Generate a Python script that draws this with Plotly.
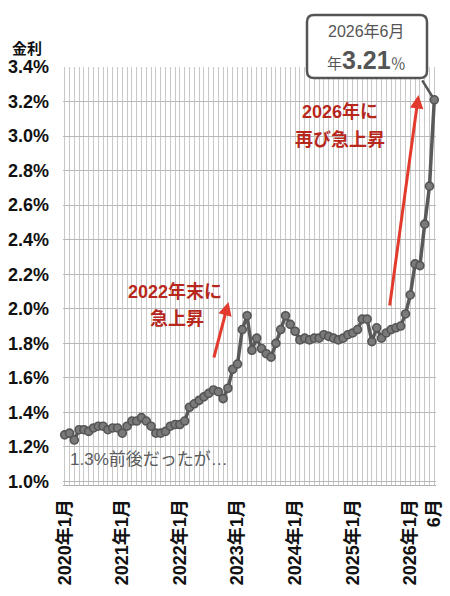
import plotly.graph_objects as go

# ---- data ----
years = [2020, 2021, 2022, 2023, 2024, 2025, 2026]
rates_2020 = [1.27, 1.28, 1.24, 1.30, 1.30, 1.29, 1.31, 1.32, 1.32, 1.30, 1.31, 1.31]
rates_2021 = [1.28, 1.32, 1.35, 1.35, 1.37, 1.35, 1.32, 1.28, 1.28, 1.29, 1.32, 1.33]
rates_2022 = [1.33, 1.35, 1.43, 1.45, 1.47, 1.49, 1.51, 1.53, 1.52, 1.48, 1.54, 1.65]
rates_2023 = [1.68, 1.88, 1.96, 1.76, 1.83, 1.77, 1.74, 1.72, 1.80, 1.88, 1.96, 1.91]
rates_2024 = [1.87, 1.82, 1.83, 1.82, 1.83, 1.83, 1.85, 1.84, 1.83, 1.82, 1.83, 1.85]
rates_2025 = [1.86, 1.88, 1.94, 1.94, 1.81, 1.89, 1.83, 1.86, 1.88, 1.89, 1.90, 1.97]
rates_2026 = [2.08, 2.26, 2.25, 2.49, 2.71, 3.21]

rates = rates_2020 + rates_2021 + rates_2022 + rates_2023 + rates_2024 + rates_2025 + rates_2026
months = []
for y, arr in zip(years, [rates_2020, rates_2021, rates_2022, rates_2023, rates_2024, rates_2025, rates_2026]):
    for m in range(len(arr)):
        months.append(f"{y}年{m + 1}月")
idx = list(range(len(rates)))

x_tick_text = ["2020年1月", "2021年1月", "2022年1月", "2023年1月", "2024年1月", "2025年1月", "2026年1月", "6月"]
x_tick_vals = [months.index(t) for t in x_tick_text[:-1]] + [len(months) - 1]
y_tick_vals = [1.0, 1.2, 1.4, 1.6, 1.8, 2.0, 2.2, 2.4, 2.6, 2.8, 3.0, 3.2, 3.4]
y_tick_text = [f"{v:.1f}%" for v in y_tick_vals]

# ---- layout geometry ----
WID, HEI = 450, 596
L, R, T, B = 63, 436, 67, 485

def px(x):
    return (x - L) / (R - L)

def py(y):
    return (B - y) / (B - T)

FONT = "Liberation Sans, Noto Sans CJK JP, sans-serif"

fig = go.Figure()
fig.add_trace(go.Scatter(
    x=idx, y=rates, mode="lines+markers",
    line=dict(color="#5a5a5a", width=3.5),
    marker=dict(size=8, color="#7a7a7a", line=dict(color="#555555", width=1.6)),
    cliponaxis=False, hoverinfo="skip", showlegend=False,
))

def rect(x0, y0, x1, y1):
    return dict(type="rect", xref="paper", yref="paper",
                x0=px(x0), x1=px(x1), y0=py(y1), y1=py(y0),
                fillcolor="white", line=dict(width=0), layer="between")

shapes = [rect(63, 447, 232, 471), rect(118, 275, 236, 332), rect(284, 94, 393, 153)]

# rounded callout box
cx0, cy0, cx1, cy1, r = 307, 15, 427, 78, 7
def P(x, y):
    return f"{px(x):.5f},{py(y):.5f}"
path = (f"M{P(cx0 + r, cy0)} L{P(cx1 - r, cy0)} Q{P(cx1, cy0)} {P(cx1, cy0 + r)} "
        f"L{P(cx1, cy1 - r)} Q{P(cx1, cy1)} {P(cx1 - r, cy1)} "
        f"L{P(cx0 + r, cy1)} Q{P(cx0, cy1)} {P(cx0, cy1 - r)} "
        f"L{P(cx0, cy0 + r)} Q{P(cx0, cy0)} {P(cx0 + r, cy0)} Z")
shapes.append(dict(type="path", xref="paper", yref="paper", path=path,
                   fillcolor="white", line=dict(color="#555555", width=2.5), layer="above"))

RED_TXT = "#b8271c"
RED_ARR = "#e23b2e"
ann = []
def txt(x, y, s, size, color, weight="normal", xanchor="center"):
    ann.append(dict(xref="paper", yref="paper", x=px(x), y=py(y), text=s, showarrow=False,
                    xanchor=xanchor, yanchor="middle",
                    font=dict(family=FONT, size=size, color=color, weight=weight)))

txt(27, 48.5, "金利", 15, "#111111", "bold")
txt(68, 459.5, "1.3%前後だったが…", 17, "#5b5b5b", xanchor="left")
txt(175, 291.7, "2022年末に", 18, RED_TXT, "bold")
txt(176.5, 318.3, "急上昇", 18, RED_TXT, "bold")
txt(340, 111.7, "2026年に", 18, RED_TXT, "bold")
txt(340, 139.3, "再び急上昇", 18, RED_TXT, "bold")
txt(366, 31.7, months[-1], 16, "#555555")
txt(366, 60, f"年<span style='font-size:25px'><b>{rates[-1]:.2f}</b></span>％", 15, "#555555")

def arrow(x, y, ax, ay):
    ann.append(dict(xref="paper", yref="paper", x=px(x), y=py(y), ax=ax, ay=ay, text="",
                    showarrow=True, arrowhead=2, arrowsize=0.9, arrowwidth=3, arrowcolor=RED_ARR))

arrow(228.5, 302, -15, 57)
arrow(418.5, 95, -29, 212)

# callout tail to last point
ann.append(dict(x=idx[-1], y=rates[-1], ax=-13, ay=-21, text="", showarrow=True,
                arrowhead=0, arrowwidth=2.5, arrowcolor="#555555", standoff=3))

px_per_month = 4.8
x0_pix = 64.7
fig.update_layout(
    width=WID, height=HEI,
    margin=dict(l=L, r=WID - R, t=T, b=HEI - B, pad=0),
    paper_bgcolor="white", plot_bgcolor="white",
    shapes=shapes, annotations=ann,
    xaxis=dict(
        range=[-(x0_pix - L) / px_per_month, idx[-1] + (R - (x0_pix + idx[-1] * px_per_month)) / px_per_month],
        tickmode="array", tickvals=x_tick_vals, ticktext=x_tick_text, tickangle=-90,
        tickfont=dict(family=FONT, size=18, color="#111111", weight="bold"),
        ticks="", ticklabelstandoff=6,
        showgrid=True, gridcolor="#c8c8c8", gridwidth=1,
        minor=dict(tickmode="linear", tick0=0, dtick=1, showgrid=True, gridcolor="#c8c8c8", gridwidth=1),
        showline=True, linecolor="#b0b0b0", linewidth=1, zeroline=False, automargin=False,
        fixedrange=True,
    ),
    yaxis=dict(
        range=[1.0 - (B - 481.5) / 172.7, 3.4],
        tickmode="array", tickvals=y_tick_vals, ticktext=y_tick_text,
        tickfont=dict(family=FONT, size=18, color="#111111", weight="bold"),
        ticks="", ticklabelstandoff=13,
        showgrid=True, gridcolor="#b8b8b8", gridwidth=1,
        zeroline=False, showline=False, automargin=False, fixedrange=True,
    ),
)

fig.write_html("out.html")
